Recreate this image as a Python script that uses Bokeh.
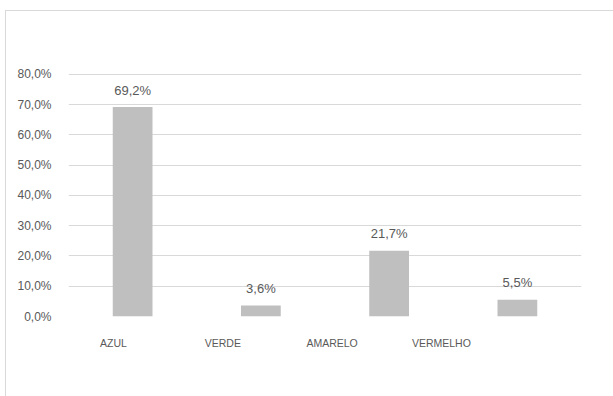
from bokeh.plotting import figure
from bokeh.embed import file_html
from bokeh.resources import INLINE
from bokeh.models import FixedTicker, ColumnDataSource, LinearAxis, Range1d
from bokeh.core.properties import value

categories = ["AZUL", "VERDE", "AMARELO", "VERMELHO"]
values = [69.2, 3.6, 21.7, 5.5]
labels = ["69,2%", "3,6%", "21,7%", "5,5%"]
y_ticks = [0, 10, 20, 30, 40, 50, 60, 70, 80]
y_tick_labels = ["0,0%", "10,0%", "20,0%", "30,0%", "40,0%", "50,0%", "60,0%", "70,0%", "80,0%"]

FONT = "Liberation Sans"
TXT = "#595959"

idx = list(range(len(categories)))
src = ColumnDataSource(dict(x=idx, cat=categories, val=values, lab=labels))

p = figure(x_range=Range1d(-0.5, len(categories) - 0.5), y_range=(0, 80.3), width=608, height=386,
           output_backend="svg", toolbar_location=None,
           min_border_left=62, min_border_right=33, min_border_top=62, min_border_bottom=81,
           margin=(10, 0, 0, 5),
           styles={"border-left": "1px solid #d9d9d9", "border-top": "1px solid #d9d9d9"})

p.vbar(x="x", top="val", width=0.31, source=src, fill_color="#bfbfbf", line_color=None)
p.text(x="x", y="val", text="lab", source=src, text_align="center", text_baseline="middle",
       y_offset=-17, text_font=value(FONT), text_font_size="13px", text_color=TXT)

p.outline_line_color = None
p.xgrid.grid_line_color = None
p.ygrid.grid_line_color = "#d9d9d9"
p.yaxis.ticker = FixedTicker(ticks=y_ticks)
p.yaxis.major_label_overrides = {t: l for t, l in zip(y_ticks, y_tick_labels)}

# category labels sit on their own (slightly compressed) scale, as in the reference
p.xaxis.visible = False
p.extra_x_ranges = {"lab": Range1d(-0.412, 4.282)}
lab_axis = LinearAxis(x_range_name="lab", ticker=FixedTicker(ticks=idx),
                      major_label_overrides={i: c for i, c in zip(idx, categories)})
p.add_layout(lab_axis, "below")

for ax in (lab_axis, p.yaxis[0]):
    ax.axis_line_color = None
    ax.major_tick_line_color = None
    ax.minor_tick_line_color = None
    ax.major_tick_out = 0
    ax.major_tick_in = 0
    ax.major_label_text_color = TXT
    ax.major_label_text_font = FONT
p.yaxis.major_label_text_font_size = "12px"
p.yaxis.major_label_standoff = 17
lab_axis.major_label_text_font_size = "10.5px"
lab_axis.major_label_standoff = 20

open("out.html", "w").write(file_html(p, INLINE))
